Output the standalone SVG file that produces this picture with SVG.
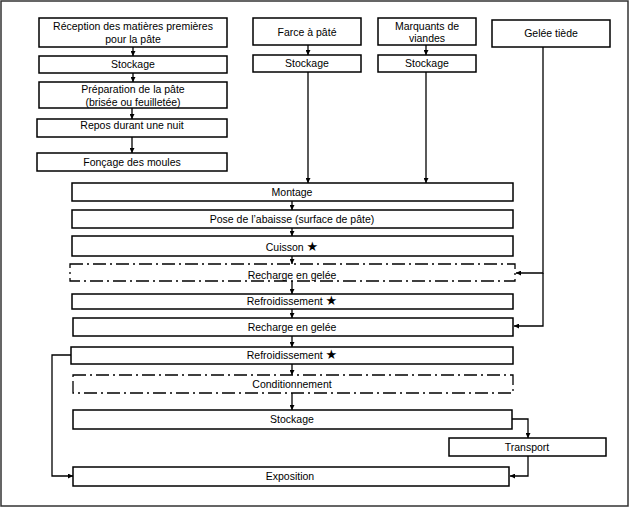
<svg xmlns="http://www.w3.org/2000/svg" width="630" height="508" viewBox="0 0 630 508">
<style>
.b{fill:#fff;stroke:#000;stroke-width:1.5}
.d{fill:#fff;stroke:#000;stroke-width:1.3;stroke-dasharray:13 4 2 4}
.t{font-family:"Liberation Sans",Arial,sans-serif;font-size:10.5px;fill:#000;text-anchor:middle}
.s{font-family:"DejaVu Sans",sans-serif;font-size:13px;font-weight:bold}
.c{fill:none;stroke:#000;stroke-width:1.3}
</style>
<defs>
<marker id="a" viewBox="0 0 10 10" refX="10" refY="5" markerWidth="5" markerHeight="5" orient="auto" markerUnits="userSpaceOnUse"><path d="M0,0L10,5L0,10z" fill="#000"/></marker>
</defs>
<rect x="1" y="1" width="627" height="505" fill="#fff" stroke="#333" stroke-width="1.5"/>
<g id="connectors">
<path class="c" d="M133,47V56" marker-end="url(#a)"/>
<path class="c" d="M133,73V82" marker-end="url(#a)"/>
<path class="c" d="M132,108V119" marker-end="url(#a)"/>
<path class="c" d="M132,137V153" marker-end="url(#a)"/>
<path class="c" d="M308,45V55" marker-end="url(#a)"/>
<path class="c" d="M426,45V55" marker-end="url(#a)"/>
<path class="c" d="M308,72V183" marker-end="url(#a)"/>
<path class="c" d="M426,72V183" marker-end="url(#a)"/>
<path class="c" d="M292,201V210" marker-end="url(#a)"/>
<path class="c" d="M292,228V236" marker-end="url(#a)"/>
<path class="c" d="M292,256V264" marker-end="url(#a)"/>
<path class="c" d="M292,281V294" marker-end="url(#a)"/>
<path class="c" d="M292,309V318" marker-end="url(#a)"/>
<path class="c" d="M292,336V347" marker-end="url(#a)"/>
<path class="c" d="M292,364V375" marker-end="url(#a)"/>
<path class="c" d="M292,393V410" marker-end="url(#a)"/>
<path class="c" d="M543,47V273H516" marker-end="url(#a)"/>
<path class="c" d="M543,273V326H514" marker-end="url(#a)"/>
<path class="c" d="M512,419H528V438" marker-end="url(#a)"/>
<path class="c" d="M528,456V476H510" marker-end="url(#a)"/>
<path class="c" d="M71,355H52V476H73" marker-end="url(#a)"/>
</g>
<g id="n1"><rect class="b" x="39" y="18" width="188" height="29"/><text class="t" x="133" y="30">Réception des matières premières</text><text class="t" x="133" y="43">pour la pâte</text></g>
<g id="n2"><rect class="b" x="39" y="56" width="188" height="17"/><text class="t" x="133" y="68">Stockage</text></g>
<g id="n3"><rect class="b" x="39" y="82" width="188" height="26"/><text class="t" x="133" y="93">Préparation de la pâte</text><text class="t" x="133" y="106">(brisée ou feuilletée)</text></g>
<g id="n4"><rect class="b" x="37" y="119" width="190" height="18"/><text class="t" x="132" y="129">Repos durant une nuit</text></g>
<g id="n5"><rect class="b" x="37" y="153" width="190" height="18"/><text class="t" x="132" y="166">Fonçage des moules</text></g>
<g id="n6"><rect class="b" x="253" y="18" width="108" height="27"/><text class="t" x="307" y="36">Farce à pâté</text></g>
<g id="n7"><rect class="b" x="253" y="55" width="108" height="17"/><text class="t" x="307" y="67">Stockage</text></g>
<g id="n8"><rect class="b" x="378" y="18" width="98" height="27"/><text class="t" x="427" y="30">Marquants de</text><text class="t" x="427" y="42">viandes</text></g>
<g id="n9"><rect class="b" x="378" y="55" width="98" height="17"/><text class="t" x="427" y="67">Stockage</text></g>
<g id="n10"><rect class="b" x="492" y="20" width="118" height="27"/><text class="t" x="551" y="37">Gelée tiède</text></g>
<g id="n11"><rect class="b" x="72" y="183" width="441" height="18"/><text class="t" x="292" y="196">Montage</text></g>
<g id="n12"><rect class="b" x="72" y="210" width="441" height="18"/><text class="t" x="292" y="223">Pose de l’abaisse  (surface de pâte)</text></g>
<g id="n13"><rect class="b" x="72" y="236" width="441" height="20"/><text class="t" x="292" y="251">Cuisson <tspan class="s">★</tspan></text></g>
<g id="n14"><rect class="d" x="70" y="264" width="445" height="17"/><text class="t" x="292" y="279">Recharge en gelée</text></g>
<g id="n15"><rect class="b" x="72" y="294" width="441" height="15"/><text class="t" x="292" y="305">Refroidissement <tspan class="s">★</tspan></text></g>
<g id="n16"><rect class="b" x="73" y="318" width="440" height="18"/><text class="t" x="292" y="331">Recharge en gelée</text></g>
<g id="n17"><rect class="b" x="71" y="347" width="442" height="17"/><text class="t" x="292" y="359">Refroidissement <tspan class="s">★</tspan></text></g>
<g id="n18"><rect class="d" x="73" y="375" width="440" height="18"/><text class="t" x="292" y="388">Conditionnement</text></g>
<g id="n19"><rect class="b" x="73" y="410" width="439" height="19"/><text class="t" x="292" y="423">Stockage</text></g>
<g id="n20"><rect class="b" x="449" y="438" width="157" height="18"/><text class="t" x="527" y="451">Transport</text></g>
<g id="n21"><rect class="b" x="73" y="467" width="436" height="19"/><text class="t" x="290" y="480">Exposition</text></g>
</svg>
